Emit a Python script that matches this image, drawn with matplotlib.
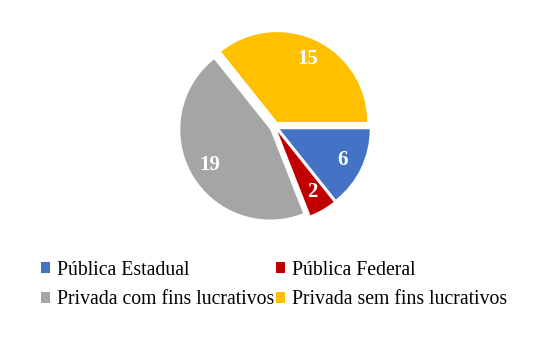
import matplotlib.pyplot as plt
from matplotlib.patches import Patch

categories = ["Pública Estadual", "Pública Federal",
              "Privada com fins lucrativos", "Privada sem fins lucrativos"]
values = [6, 2, 19, 15]
colors = ["#4472C4", "#C00000", "#A5A5A5", "#FFC000"]

plt.rcParams['font.family'] = ['Liberation Serif', 'DejaVu Serif']

fig = plt.figure(figsize=(5.52, 3.57), dpi=100)
ax = fig.add_axes([0.286, 0.317, 0.424, 0.655])

wedges, texts, autotexts = ax.pie(
    values, colors=colors, startangle=0, counterclock=False,
    explode=[0.06] * len(values),
    autopct=lambda p: f"{round(p * sum(values) / 100):d}",
    pctdistance=0.78,
    wedgeprops=dict(linewidth=0),
)
for t in autotexts:
    t.set_color("white")
    t.set_fontweight("bold")
    t.set_fontsize(15)
ax.set_xlim(-1.3, 1.3)
ax.set_ylim(-1.3, 1.3)
ax.set_aspect("equal")
ax.axis("off")

# legend reads row by row, matplotlib fills column by column
order = [0, 2, 1, 3]
handles = [Patch(facecolor=colors[i], edgecolor="none") for i in order]
labels = [categories[i] for i in order]
fig.legend(handles, labels, ncol=2, loc="upper left",
           bbox_to_anchor=(0.075, 0.27), frameon=False, fontsize=14.2,
           handlelength=0.45, handleheight=0.45, handletextpad=0.35,
           columnspacing=0.1, labelspacing=0.55, borderaxespad=0,
           borderpad=0)

fig.savefig("out.png", dpi=100)
